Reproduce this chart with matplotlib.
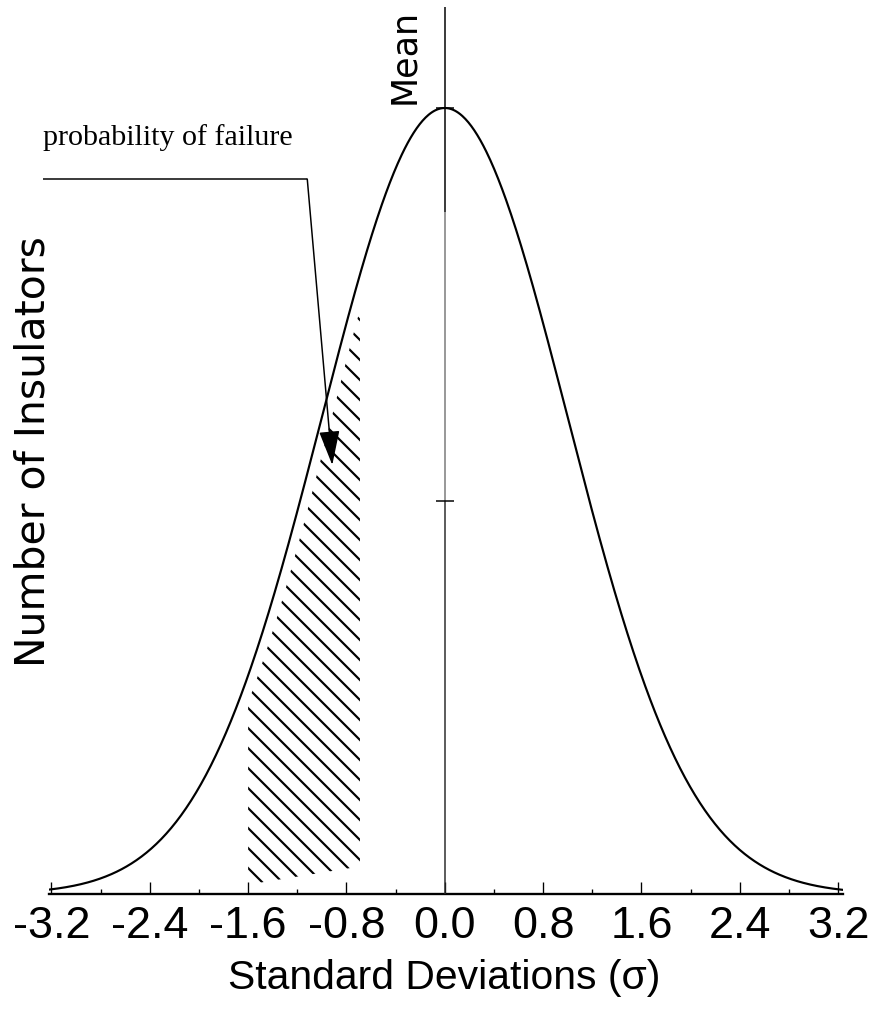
import numpy as np
import matplotlib
matplotlib.use("Agg")
import matplotlib.pyplot as plt
from matplotlib.ticker import FixedLocator

# Distribution of insulator strength (standard normal, x in standard deviations)
mean = 0.0
sigma = 1.0
x_range = (-3.22, 3.24)
major_ticks = [-3.2, -2.4, -1.6, -0.8, 0.0, 0.8, 1.6, 2.4, 3.2]
tick_labels = ["-3.2", "-2.4", "-1.6", "-0.8", "0.0", "0.8", "1.6", "2.4", "3.2"]

# Region counted as failures
fail_lo = -1.60
fail_hi = -0.69
hatch_inset = 0.08            # hatch edge sits slightly inside the curve
hatch_floor = (0.012, 0.035)  # bottom of hatch (fraction of peak) at left / right

# Marks on the mean line (fraction of peak)
mean_marks = [1.0, 0.5]
mean_faint = (0.5, 0.868)     # faint stretch of the mean line

plt.rcParams["hatch.linewidth"] = 1.3

DPI = 120
W, H = 874, 1026
fig = plt.figure(figsize=(W / DPI, H / DPI), dpi=DPI)
fig.patch.set_facecolor("white")

def gauss(x, shift=0.0):
    return np.exp(-0.5 * ((x - mean - shift) / sigma) ** 2) / (sigma * np.sqrt(2 * np.pi))

peak = gauss(mean)

# axes placed in pixel terms
ax_left, ax_right = 49, 843
ax_base, ax_top = 894, 7
peak_px = 108
ax = fig.add_axes([ax_left / W, (H - ax_base) / H,
                   (ax_right - ax_left) / W, (ax_base - ax_top) / H])
ax.set_xlim(*x_range)
ytop = peak * (ax_base - ax_top) / (ax_base - peak_px)
ax.set_ylim(0, ytop)

# Bell curve
xs = np.linspace(x_range[0], x_range[1], 800)
ax.plot(xs, gauss(xs), color="black", lw=1.3, solid_capstyle="round", zorder=3)

# Hatched failure region
xf = np.linspace(fail_lo, fail_hi, 200)
upper = gauss(xf, hatch_inset)
lower = np.interp(xf, [fail_lo, fail_hi], [hatch_floor[0] * peak, hatch_floor[1] * peak])
ax.fill_between(xf, lower, upper, facecolor="none", edgecolor="black",
                linewidth=0, hatch="\\\\", zorder=2)

# Mean line
ax.vlines(mean, 0, mean_faint[0] * peak, colors="#2a2a2a", lw=0.9, zorder=4)
ax.vlines(mean, mean_faint[0] * peak, mean_faint[1] * peak, colors="#9a9a9a", lw=1.2, zorder=4)
ax.vlines(mean, mean_faint[1] * peak, ytop, colors="black", lw=0.9, zorder=4)
ax.plot([mean] * len(mean_marks), [m * peak for m in mean_marks], ls="none",
        marker="_", ms=11, mew=0.9, color="black", zorder=5)

# Axis styling
for s in ("left", "right", "top"):
    ax.spines[s].set_visible(False)
ax.spines["bottom"].set_linewidth(1.4)
ax.xaxis.set_major_locator(FixedLocator(major_ticks))
ax.set_xticklabels(tick_labels)
ax.xaxis.set_minor_locator(FixedLocator([t + 0.4 for t in major_ticks[:-1]]))
ax.tick_params(axis="x", which="major", direction="in", length=7.2, width=0.8,
               pad=7, labelsize=27)
ax.tick_params(axis="x", which="minor", direction="in", length=3, width=0.8)
ax.set_yticks([])
sans = ["Liberation Sans", "DejaVu Sans"]
for lab in ax.get_xticklabels():
    lab.set_family(sans)

# Axis titles
fig.text(444.5 / W, 1 - 978 / H, "Standard Deviations (\u03c3)", ha="center", va="center",
         fontsize=24.5, family=sans)
fig.text(45 / W, 1 - 452 / H, "Number of Insulators", rotation=90,
         rotation_mode="anchor", ha="center", va="baseline",
         fontsize=24.5, family=["DejaVu Sans"])

# Text placement helper (pixel position -> data units)
def px_to_data(px, py):
    dx = (px - 444.5) / 122.9
    dy = (ax_base - py) / (ax_base - peak_px) * peak
    return dx, dy

mx, my = px_to_data(414, 56)
ax.text(mx, my, "Mean", rotation=90, rotation_mode="anchor", ha="center",
        va="baseline", fontsize=21, family=["DejaVu Sans"], clip_on=False)

# Failure call-out
tx, ty = px_to_data(43, 145)
ax.text(tx, ty, "probability of failure", ha="left", va="baseline",
        fontsize=18, family=["Liberation Serif", "DejaVu Serif"], clip_on=False)
l0 = px_to_data(43, 179)
l1 = px_to_data(307, 179)
tip = px_to_data(332, 465)
ax.plot([l0[0], l1[0]], [l0[1], l1[1]], color="black", lw=0.9, clip_on=False,
        solid_capstyle="butt")
ax.annotate("", xy=tip, xytext=l1,
            arrowprops=dict(arrowstyle="-|>,head_length=1.5,head_width=0.45",
                            mutation_scale=12, color="black", lw=0.9,
                            shrinkA=0, shrinkB=0), annotation_clip=False)

fig.savefig("out.png", dpi=DPI, facecolor="white")
